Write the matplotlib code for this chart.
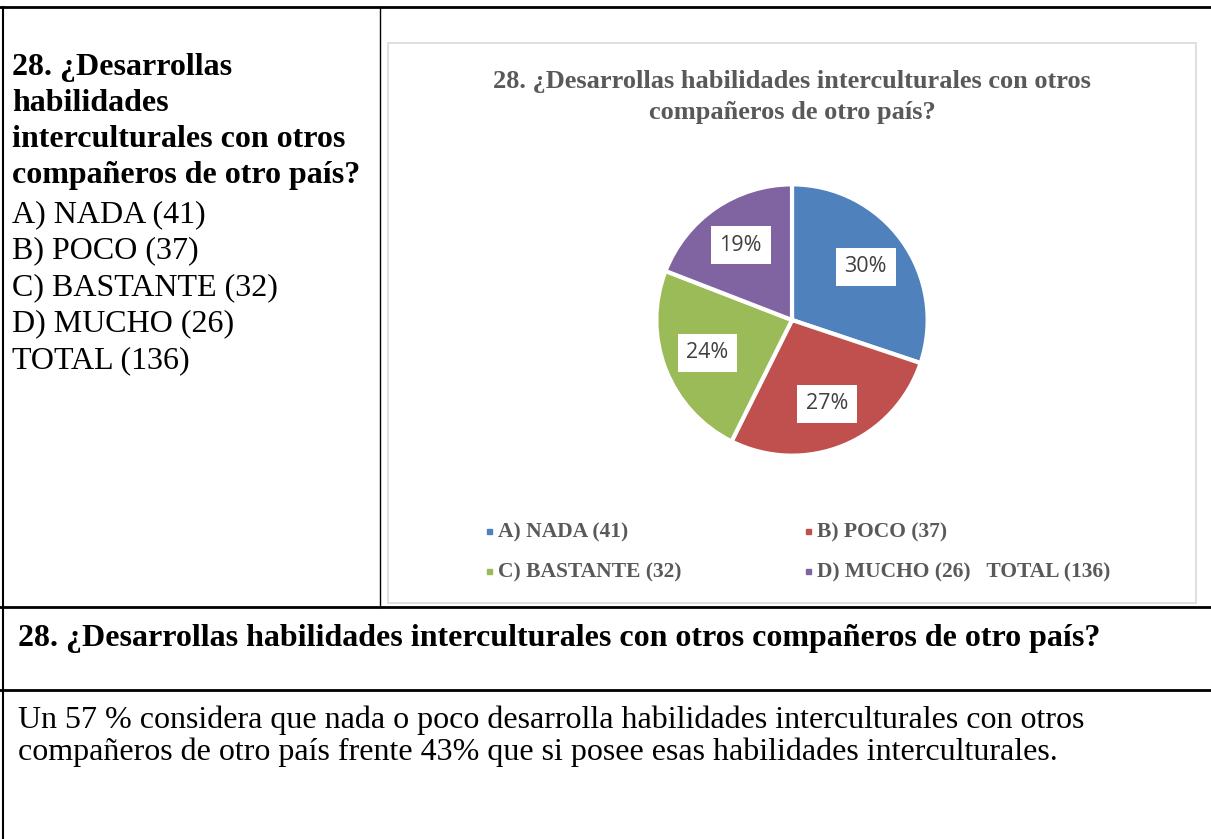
import matplotlib
matplotlib.use("Agg")
import matplotlib.pyplot as plt
from matplotlib.patches import Rectangle

# datos de la pregunta 28
categorias = ["A) NADA (41)", "B) POCO (37)", "C) BASTANTE (32)", "D) MUCHO (26)   TOTAL (136)"]
valores = [41, 37, 32, 26]
colores = ["#4F81BD", "#C0504D", "#9BBB59", "#8064A2"]

pregunta = "28. ¿Desarrollas habilidades interculturales con otros compañeros de otro país?"
lineas_negrita = ["28. ¿Desarrollas", "habilidades", "interculturales con otros", "compañeros de otro país?"]
lineas_normal = ["A) NADA (41)", "B) POCO (37)", "C) BASTANTE (32)", "D) MUCHO (26)", "TOTAL (136)"]
titulo = "28. ¿Desarrollas habilidades interculturales con otros\ncompañeros de otro país?"
comentario = ["Un 57 % considera que nada o poco desarrolla habilidades interculturales con otros",
              "compañeros de otro país frente 43% que si posee esas habilidades interculturales."]

W, H = 1211, 839
fig = plt.figure(figsize=(W / 100, H / 100), dpi=100)
serif = "Liberation Serif"

# eje de fondo en pixeles para la tabla
fondo = fig.add_axes([0, 0, 1, 1])
fondo.set_xlim(0, W)
fondo.set_ylim(H, 0)
fondo.axis("off")

# lineas de la tabla
fondo.plot([0, W], [7, 7], color="black", lw=2)
fondo.plot([2.5, 2.5], [7, H], color="black", lw=1.5)
fondo.plot([380, 380], [7, 607], color="black", lw=1)
fondo.plot([0, W], [607, 607], color="black", lw=2)
fondo.plot([0, W], [690, 690], color="black", lw=2)

# marco del grafico
fondo.add_patch(Rectangle((388, 43), 808, 560, fill=False, ec="#D9D9D9", lw=1.2))

# celda izquierda
y = 75
for t in lineas_negrita:
    fondo.text(12, y, t, fontsize=23, fontweight="bold", family=serif, va="baseline")
    y += 36
y += 3
for t in lineas_normal:
    fondo.text(12, y, t, fontsize=23, family=serif, va="baseline")
    y += 36.5

# filas de abajo
fondo.text(18, 646, pregunta, fontsize=23, fontweight="bold", family=serif, va="baseline")
fondo.text(18, 728, comentario[0], fontsize=23, family=serif, va="baseline")
fondo.text(18, 760, comentario[1], fontsize=23, family=serif, va="baseline")

# titulo del grafico
fondo.text(792, 97, titulo, fontsize=19, fontweight="bold", family=serif, color="#595959",
           ha="center", va="center", linespacing=1.45)

# leyenda
pos_leyenda = [(489, 531), (808, 531), (489, 571), (808, 571)]
for (lx, ly), cat, col in zip(pos_leyenda, categorias, colores):
    fondo.add_patch(Rectangle((lx - 2.5, ly - 2.5), 5, 5, color=col))
    fondo.text(lx + 9, ly + 1, cat, fontsize=15.5, fontweight="bold", family=serif,
               color="#595959", va="center")

# pastel
r = 137
cx, cy = 792, 320
ax = fig.add_axes([(cx - r) / W, (H - cy - r) / H, 2 * r / W, 2 * r / H])
wedges, textos, pcts = ax.pie(valores, colors=colores, startangle=90, counterclock=False,
                              autopct="%.0f%%", pctdistance=0.67,
                              wedgeprops=dict(edgecolor="white", linewidth=3))
for p in pcts:
    p.set_fontsize(15.5)
    p.set_family("Open Sans")
    p.set_color("#404040")
    p.set_bbox(dict(facecolor="white", edgecolor="none", boxstyle="square,pad=0.4"))
ax.set_xlim(-1.01, 1.01)
ax.set_ylim(-1.01, 1.01)

plt.savefig("out.png", dpi=100)
